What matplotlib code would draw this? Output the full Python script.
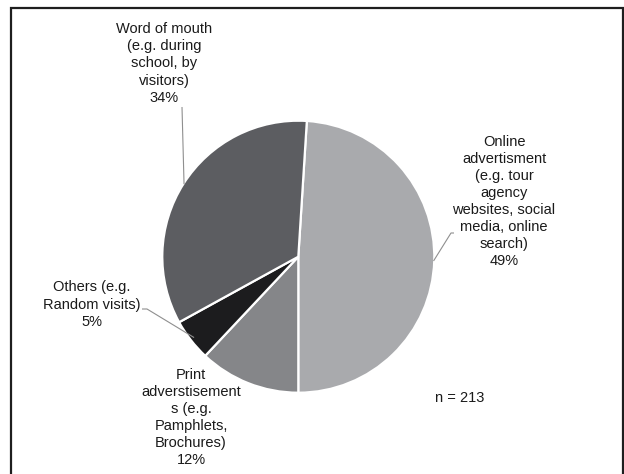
import numpy as np
import matplotlib
matplotlib.use("Agg")
import matplotlib.pyplot as plt
from matplotlib.patches import Rectangle

# Survey: how visitors heard about the site (n = 213)
categories = [
    "Online\nadvertisment\n(e.g. tour\nagency\nwebsites, social\nmedia, online\nsearch)",
    "Print\nadverstisement\ns (e.g.\nPamphlets,\nBrochures)",
    "Others (e.g.\nRandom visits)",
    "Word of mouth\n(e.g. during\nschool, by\nvisitors)",
]
shares = [49, 12, 5, 34]
colors = ["#a9aaad", "#858689", "#1c1c1e", "#5c5d61"]
sample_note = "n = 213"

W, H = 624, 474
CX, CY, R = 298.3, 256.7, 136.0  # pie centre and radius in pixels

plt.rcParams["font.family"] = ["Liberation Sans", "DejaVu Sans"]

fig = plt.figure(figsize=(W / 100, H / 100), dpi=100)
ax = fig.add_axes([(CX - R) / W, (H - CY - R) / H, 2 * R / W, 2 * R / H])

total = sum(shares)
start = -90 + 360 * shares[0] / total  # first wedge ends straight down
wedges, _ = ax.pie(
    shares, colors=colors, startangle=start, counterclock=False, radius=1,
    wedgeprops=dict(edgecolor="white", linewidth=1.6),
)
ax.set_xlim(-1, 1)
ax.set_ylim(-1, 1)
ax.axis("off")


def px(x, y):
    """Pixel position -> pie data coordinates."""
    return (x - CX) / R, (CY - y) / R


def edge_point(w, r=1.0):
    mid = np.deg2rad((w.theta1 + w.theta2) / 2)
    return r * np.cos(mid), r * np.sin(mid)


text_kw = dict(fontsize=10.5, color="#1a1a1a", ha="center", va="center",
               linespacing=1.28, clip_on=False)
label_pos = [(504, 201.5), (191, 417.5), (92, 304.5), (164, 63.5)]
for name, val, (lx, ly) in zip(categories, shares, label_pos):
    ax.text(*px(lx, ly), f"{name}\n{val}%", **text_kw)

line_kw = dict(color="#8f8f8f", lw=0.8, clip_on=False, solid_capstyle="butt")

# leader lines
ex, ey = edge_point(wedges[0], 0.995)
pts = [px(454, 233), px(451, 233), (ex, ey)]
ax.plot([p[0] for p in pts], [p[1] for p in pts], **line_kw)

ex, ey = edge_point(wedges[2], 0.97)
pts = [px(142, 309), px(147, 309), (ex, ey)]
ax.plot([p[0] for p in pts], [p[1] for p in pts], **line_kw)

ex, ey = edge_point(wedges[3], 0.995)
pts = [px(182, 107), (ex, ey)]
ax.plot([p[0] for p in pts], [p[1] for p in pts], **line_kw)

ax.text(*px(460, 398), sample_note, **text_kw)

# frame around the chart
fig.patches.append(Rectangle((11 / W, -0.05), (622.5 - 11) / W, 1.05 - 8 / H,
                             transform=fig.transFigure, fill=False,
                             edgecolor="#1e1e1e", linewidth=1.6))

fig.savefig("out.png", dpi=100, facecolor="white")
